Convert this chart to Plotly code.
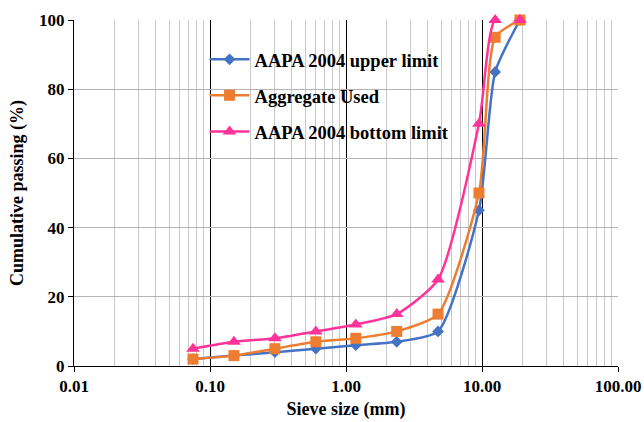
import plotly.graph_objects as go

# Sieve sizes (mm) and cumulative passing (%) for each grading curve
sieve_mm = [0.075, 0.15, 0.3, 0.6, 1.18, 2.36, 4.75, 9.5, 12.5, 19]
upper_limit = [2, 3, 4, 5, 6, 7, 10, 45, 85, 100]
aggregate_used = [2, 3, 5, 7, 8, 10, 15, 50, 95, 100]
bottom_limit = [5, 7, 8, 10, 12, 15, 25, 70, 100, 100]

x_tick_vals = [0.01, 0.1, 1, 10, 100]
x_tick_text = ["0.01", "0.10", "1.00", "10.00", "100.00"]
y_tick_vals = [0, 20, 40, 60, 80, 100]

FONT = "Liberation Serif"

fig = go.Figure()

series = [
    ("AAPA 2004 upper limit", upper_limit, "#4472C4", "diamond", 9),
    ("Aggregate Used", aggregate_used, "#ED7D31", "square", 11),
    ("AAPA 2004 bottom limit", bottom_limit, "#FF3399", "triangle-up", 12),
]
for i, (name, vals, color, symbol, size) in enumerate(series):
    fig.add_trace(go.Scatter(
        x=sieve_mm, y=vals, name=name, mode="lines+markers",
        line=dict(color=color, width=2.5, shape="spline", smoothing=0.6),
        marker=dict(symbol=symbol, size=size, color=color),
        legendgroup=f"g{i}", cliponaxis=False,
    ))

fig.update_layout(
    width=644, height=422,
    margin=dict(l=74, r=26, t=20, b=56),
    paper_bgcolor="white", plot_bgcolor="white",
    font=dict(family=FONT, size=17, color="black"),
    showlegend=True,
    legend=dict(
        x=0.24, y=0.94, xanchor="left", yanchor="top",
        bgcolor="rgba(0,0,0,0)", traceorder="grouped", tracegroupgap=9,
        font=dict(family=FONT, size=18.5, color="black", weight="bold"),
        itemwidth=40,
    ),
)

fig.update_xaxes(
    type="log", range=[-2, 2], automargin=False,
    tickvals=x_tick_vals, ticktext=x_tick_text,
    tickfont=dict(family=FONT, size=17, weight="bold"),
    showgrid=True, gridcolor="black", gridwidth=1,
    minor=dict(showgrid=True, gridcolor="#c8c8c8", gridwidth=1, dtick="D1",
               ticks=""),
    ticks="outside", ticklen=5, tickcolor="black",
    showline=True, linecolor="black", linewidth=1,
    zeroline=False,
    title=dict(text="Sieve size (mm)", standoff=6,
               font=dict(family=FONT, size=18, weight="bold")),
)
fig.update_yaxes(
    range=[0, 100], tickvals=y_tick_vals, automargin=False,
    tickfont=dict(family=FONT, size=17, weight="bold"),
    showgrid=True, gridcolor="#b4b4b4", gridwidth=1,
    ticks="outside", ticklen=5, tickcolor="black",
    showline=True, linecolor="black", linewidth=1,
    zeroline=False,
    title=dict(text="Cumulative passing (%)", standoff=10,
               font=dict(family=FONT, size=18, weight="bold")),
)

fig.write_html("out.html")
